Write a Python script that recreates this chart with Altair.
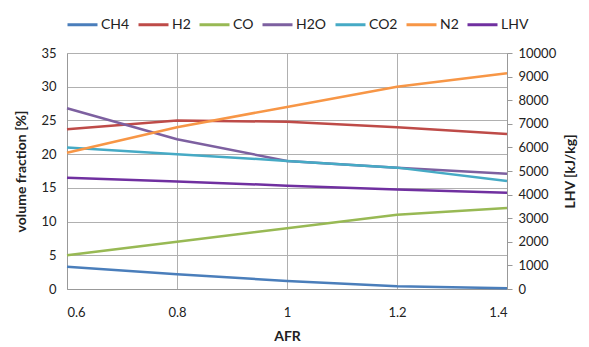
import altair as alt
import pandas as pd

afr = [0.6, 0.8, 1.0, 1.2, 1.4]
ch4 = [3.3, 2.2, 1.2, 0.4, 0.1]
h2 = [23.7, 25.0, 24.8, 24.0, 23.0]
co = [5.0, 7.0, 9.0, 11.0, 12.0]
h2o = [26.8, 22.2, 19.0, 18.0, 17.1]
co2 = [21.0, 20.0, 19.0, 18.0, 16.0]
n2 = [20.2, 24.0, 27.0, 30.0, 32.0]
lhv = [4710, 4560, 4380, 4220, 4080]

series = ["CH4", "H2", "CO", "H2O", "CO2", "N2", "LHV"]
colors = ["#4a7ebb", "#be4b48", "#98b954", "#7d60a0", "#46aac5", "#f79646", "#7030a0"]

rows = []
for name, vals in zip(series[:-1], [ch4, h2, co, h2o, co2, n2]):
    for x, v in zip(afr, vals):
        rows.append({"AFR": x, "series": name, "value": v})
df_left = pd.DataFrame(rows)
df_right = pd.DataFrame({"AFR": afr, "series": "LHV", "value": lhv})

FONT = "Lato"
LBL = 13
TTL = 14

color = alt.Color(
    "series:N",
    scale=alt.Scale(domain=series, range=colors),
    sort=series,
    legend=alt.Legend(
        orient="none", direction="horizontal", title=None, symbolType="stroke",
        symbolSize=900, symbolStrokeWidth=3, labelFontSize=14, labelFont=FONT,
        columnPadding=2, labelOffset=2, labelColor="#222",
        legendX=-1, legendY=-45,
    ),
)

x = alt.X(
    "AFR:Q",
    scale=alt.Scale(domain=[0.6, 1.4], nice=False),
    axis=alt.Axis(
        values=[0.6, 0.8, 1.0, 1.2, 1.4], format="~g", title="AFR",
        titleFontWeight="bold", titleFontSize=TTL, titleFont=FONT, labelFont=FONT,
        labelFontSize=LBL, labelColor="#222", titleColor="#222", grid=True,
        gridColor="#b0b0b0", domainColor="#999", ticks=False, labelPadding=17,
        titlePadding=10,
    ),
)

left = alt.Chart(df_left).mark_line(strokeWidth=2.5).encode(
    x=x,
    y=alt.Y(
        "value:Q",
        scale=alt.Scale(domain=[0, 35], nice=False),
        axis=alt.Axis(
            values=[0, 5, 10, 15, 20, 25, 30, 35], title="volume fraction [%]",
            titleFontWeight="bold", titleFontSize=TTL, titleFont=FONT, labelFont=FONT,
            labelFontSize=LBL, labelColor="#222", titleColor="#222", grid=True,
            gridColor="#b0b0b0", domainColor="#999", ticks=False, titlePadding=12,
            labelPadding=11,
        ),
    ),
    color=color,
    detail="series:N",
)

right = alt.Chart(df_right).mark_line(strokeWidth=2.5).encode(
    x=x,
    y=alt.Y(
        "value:Q",
        scale=alt.Scale(domain=[0, 10000], nice=False),
        axis=alt.Axis(
            orient="right", values=list(range(0, 10001, 1000)), format="d",
            title="LHV [kJ/kg]", titleAngle=270,
            titleFontWeight="bold", titleFontSize=TTL, titleFont=FONT, labelFont=FONT,
            labelFontSize=LBL, labelColor="#222", titleColor="#222", grid=False,
            domainColor="#999", tickColor="#999", tickSize=5, titlePadding=22,
            labelPadding=6,
        ),
    ),
    color=color,
)

chart = (
    alt.layer(left, right)
    .resolve_scale(y="independent")
    .properties(
        width=440, height=236, background="white",
        padding={"left": 6, "top": 0, "right": 0, "bottom": 5},
    )
    .configure_view(stroke=None)
)

chart.save("out.html", embed_options={"renderer": "svg", "actions": False})
